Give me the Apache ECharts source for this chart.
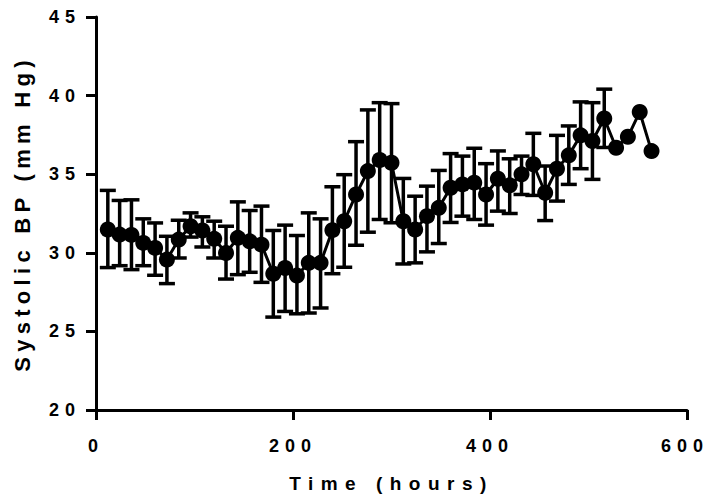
<!DOCTYPE html>
<html>
<head>
<meta charset="utf-8">
<script src="https://cdn.jsdelivr.net/npm/echarts@6/dist/echarts.min.js"></script>
<style>
html,body{margin:0;padding:0;background:#fff;}
#c{width:709px;height:502px;}
#c text{letter-spacing:6px;}
</style>
</head>
<body>
<div id="c"></div>
<script>
// Time (hours)
const hours = [12,24,36,48,60,72,84,96,108,120,132,144,156,168,180,192,204,216,228,240,252,264,276,288,300,312,324,336,348,360,372,384,396,408,420,432,444,456,468,480,492,504,516,528,540,552,564];
// Mean systolic BP (mm Hg)
const meanBP = [31.48,31.16,31.14,30.63,30.31,29.57,30.84,31.69,31.42,30.89,29.99,30.95,30.73,30.52,28.67,29.03,28.55,29.36,29.36,31.44,32.01,33.71,35.2,35.9,35.73,32.01,31.48,32.33,32.86,34.14,34.35,34.46,33.71,34.71,34.29,34.99,35.63,33.82,35.35,36.2,37.47,37.11,38.54,36.68,37.38,38.96,36.47];
// Error bar upper ends
const upperBP = [33.97,33.33,33.37,32.16,31.9,31.05,32.07,32.54,32.29,32.01,31.69,33.24,32.69,32.97,31.42,31.76,31.1,32.54,32.16,34.2,34.97,37.07,39.09,39.55,39.49,34.73,33.6,34.24,35.24,36.31,36.15,36.65,35.67,36.48,35.98,36.15,37.6,35.52,37.47,38.07,39.6,39.55,40.41,null,null,null,null];
// Error bar lower ends
const lowerBP = [29.06,29.18,28.93,29.18,28.57,28.04,29.67,31.0,30.37,29.67,28.33,28.61,28.76,28.12,25.91,26.27,26.12,26.17,26.49,28.67,29.08,30.48,31.31,32.12,31.91,29.29,29.36,30.06,30.59,31.93,32.33,32.12,31.76,32.65,32.5,33.71,33.65,32.05,33.29,34.35,35.35,34.67,36.7,null,null,null,null];
const xTicks = [0,200,400,600];
const yTicks = [20,25,30,35,40,45];
const xTitle = 'Time (hours)';
const yTitle = 'Systolic BP (mm Hg)';

const lineData = hours.map((h,i)=>[h, meanBP[i]]);
const errData = [];
hours.forEach((h,i)=>{ if(upperBP[i]!=null && lowerBP[i]!=null) errData.push([h, lowerBP[i], upperBP[i]]); });

const FONT = '"Liberation Sans", Arial, sans-serif';
const chart = echarts.init(document.getElementById('c'), null, {renderer:'svg'});
chart.setOption({
  animation:false,
  backgroundColor:'#fff',
  grid:{left:96, right:22, top:17, bottom:92},
  xAxis:{
    type:'value', min:xTicks[0], max:xTicks[xTicks.length-1], interval:200,
    name:xTitle, nameLocation:'middle', nameGap:64,
    nameTextStyle:{color:'#000', fontSize:19, fontWeight:'bold', fontFamily:FONT},
    axisLine:{show:true, onZero:false, lineStyle:{color:'#000', width:3}},
    axisTick:{show:true, inside:false, length:10, lineStyle:{color:'#000', width:3}},
    axisLabel:{color:'#000', fontSize:18, fontWeight:'bold', fontFamily:FONT, margin:27},
    splitLine:{show:false}
  },
  yAxis:{
    type:'value', min:yTicks[0], max:yTicks[yTicks.length-1], interval:5,
    name:yTitle, nameLocation:'middle', nameGap:63,
    nameTextStyle:{color:'#000', fontSize:22, fontWeight:'bold', fontFamily:FONT},
    axisLine:{show:true, onZero:false, lineStyle:{color:'#000', width:3}},
    axisTick:{show:true, inside:false, length:10, lineStyle:{color:'#000', width:3}},
    axisLabel:{color:'#000', fontSize:18, fontWeight:'bold', fontFamily:FONT, margin:15},
    splitLine:{show:false}
  },
  series:[
    {
      type:'custom', data:errData, z:1,
      renderItem:function(params, api){
        const x = api.value(0), lo = api.value(1), hi = api.value(2);
        const pH = api.coord([x, hi]), pL = api.coord([x, lo]);
        const w = 8;
        const st = {stroke:'#000', lineWidth:3.5};
        return {type:'group', children:[
          {type:'line', shape:{x1:pH[0], y1:pH[1], x2:pL[0], y2:pL[1]}, style:st},
          {type:'line', shape:{x1:pH[0]-w, y1:pH[1], x2:pH[0]+w, y2:pH[1]}, style:st},
          {type:'line', shape:{x1:pL[0]-w, y1:pL[1], x2:pL[0]+w, y2:pL[1]}, style:st}
        ]};
      }
    },
    {
      type:'line', data:lineData, z:2,
      symbol:'circle', symbolSize:16,
      lineStyle:{color:'#000', width:3},
      itemStyle:{color:'#000'}
    }
  ]
});

function applySpacing(){
  document.querySelectorAll('#c text').forEach(t=>{
    const s = t.textContent;
    if (s === yTitle) t.style.letterSpacing = '5.3px';
    else if (s === xTitle) t.style.letterSpacing = '7.5px';
    else t.style.letterSpacing = '6px';
    if (s === String(xTicks[xTicks.length-1])) t.setAttribute('dx', '-2');
  });
}
applySpacing();
chart.on('finished', applySpacing);
setTimeout(applySpacing, 0);
</script>
</body>
</html>
